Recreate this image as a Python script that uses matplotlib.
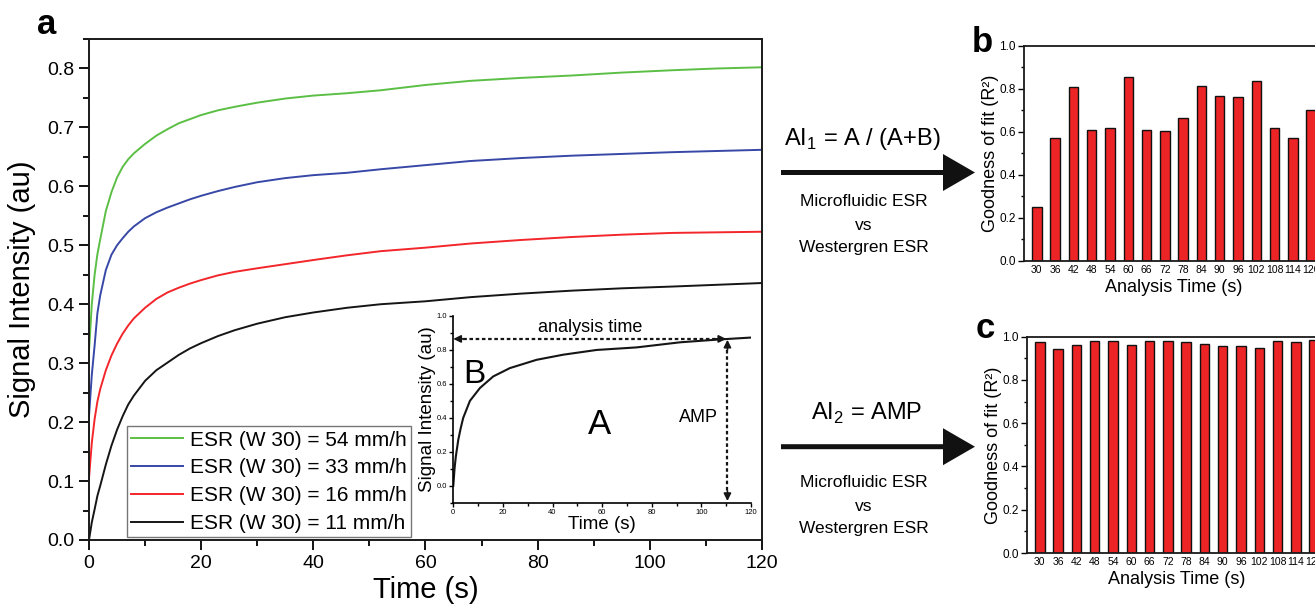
import matplotlib
matplotlib.use("Agg")
import matplotlib.pyplot as plt
from matplotlib.patches import FancyArrow
from matplotlib.ticker import MultipleLocator, FormatStrFormatter

plt.rcParams['font.family'] = ['Liberation Sans', 'DejaVu Sans']
plt.rcParams['mathtext.fontset'] = 'custom'
plt.rcParams['mathtext.rm'] = 'Liberation Sans'

# ---------------- data ----------------
t_main = [0, 0.5, 1, 1.5, 2, 3, 4, 5, 6, 7, 8, 10, 12, 14, 16, 18, 20, 23, 26,
          30, 35, 40, 46, 52, 60, 68, 77, 86, 95, 104, 112, 120]
sig_54 = [0.32, 0.40, 0.45, 0.485, 0.51, 0.558, 0.59, 0.615, 0.633, 0.646, 0.656,
          0.672, 0.686, 0.697, 0.707, 0.714, 0.721, 0.729, 0.735, 0.742, 0.749,
          0.754, 0.758, 0.763, 0.772, 0.779, 0.784, 0.788, 0.793, 0.797, 0.800, 0.802]
sig_33 = [0.21, 0.28, 0.33, 0.385, 0.415, 0.458, 0.484, 0.50, 0.512, 0.523, 0.532,
          0.546, 0.556, 0.564, 0.571, 0.578, 0.584, 0.592, 0.599, 0.607, 0.614,
          0.619, 0.623, 0.629, 0.636, 0.643, 0.648, 0.652, 0.655, 0.658, 0.660, 0.662]
sig_16 = [0.105, 0.165, 0.205, 0.235, 0.256, 0.288, 0.313, 0.333, 0.350, 0.364,
          0.376, 0.394, 0.409, 0.420, 0.428, 0.435, 0.441, 0.449, 0.455, 0.461,
          0.468, 0.475, 0.483, 0.490, 0.496, 0.503, 0.509, 0.514, 0.518, 0.521,
          0.522, 0.523]
sig_11 = [0.0, 0.03, 0.052, 0.075, 0.092, 0.128, 0.16, 0.187, 0.21, 0.23, 0.245,
          0.270, 0.288, 0.301, 0.314, 0.325, 0.334, 0.346, 0.356, 0.367, 0.378,
          0.386, 0.394, 0.400, 0.405, 0.412, 0.418, 0.423, 0.427, 0.430, 0.433, 0.436]
series_labels = ["ESR (W 30) = 54 mm/h", "ESR (W 30) = 33 mm/h",
                 "ESR (W 30) = 16 mm/h", "ESR (W 30) = 11 mm/h"]
series_colors = ["#5cbf45", "#3748a6", "#f2262b", "#151515"]

t_inset = [0, 0.5, 1, 2, 3, 4, 6.7, 10.75, 16.1, 22.8, 33.6, 44.3, 57.8, 73.9,
           91.4, 107.5, 120]
sig_inset = [0.0, 0.10, 0.17, 0.27, 0.34, 0.40, 0.50, 0.576, 0.644, 0.693,
             0.742, 0.772, 0.800, 0.815, 0.845, 0.862, 0.873]

analysis_times = ["30", "36", "42", "48", "54", "60", "66", "72", "78", "84",
                  "90", "96", "102", "108", "114", "120"]
r2_ai1 = [0.25, 0.57, 0.81, 0.61, 0.62, 0.855, 0.61, 0.605, 0.665, 0.815,
          0.765, 0.76, 0.835, 0.62, 0.57, 0.70]
r2_ai2 = [0.975, 0.945, 0.96, 0.98, 0.98, 0.96, 0.98, 0.98, 0.975, 0.965,
          0.955, 0.955, 0.95, 0.98, 0.975, 0.985]

W, H = 1315, 606
fig = plt.figure(figsize=(W / 100, H / 100), dpi=100)

# overlay (pixel coordinates) for arrows and free text
ov = fig.add_axes([0, 0, 1, 1], zorder=-1)
ov.set_xlim(0, W)
ov.set_ylim(H, 0)
ov.axis('off')

def fx(px):
    return px / W

def fy(py):
    return 1 - py / H

# ---------------- panel a ----------------
ax = fig.add_axes([fx(89), fy(540), (762 - 89) / W, (540 - 39) / H])
for y, lab, col in zip([sig_54, sig_33, sig_16, sig_11], series_labels, series_colors):
    ax.plot(t_main, y, color=col, lw=1.4, label=lab)
ax.set_xlim(0, 120)
ax.set_ylim(0, 0.85)
ax.xaxis.set_major_locator(MultipleLocator(20))
ax.xaxis.set_minor_locator(MultipleLocator(10))
ax.yaxis.set_major_locator(MultipleLocator(0.1))
ax.yaxis.set_minor_locator(MultipleLocator(0.05))
ax.yaxis.set_major_formatter(FormatStrFormatter('%.1f'))
ax.tick_params(which='major', direction='out', length=7, width=1.3, labelsize=14,
               top=False, right=False)
ax.tick_params(which='minor', direction='out', length=4, width=1.3, top=False, right=False)
for s in ax.spines.values():
    s.set_linewidth(1.4)
    s.set_color('#1a1a1a')
ax.set_xlabel("Time (s)", fontsize=21, labelpad=3)
ax.set_ylabel("Signal Intensity (au)", fontsize=21, labelpad=8)
leg = ax.legend(loc='lower left', bbox_to_anchor=(0.056, 0.005), fontsize=15,
                frameon=True, fancybox=False, edgecolor='#555555', borderaxespad=0,
                handlelength=2.5, handletextpad=0.3, labelspacing=0.42,
                borderpad=0.22)
leg.get_frame().set_linewidth(1.0)
leg.set_zorder(1)

# ---------------- inset ----------------
ai = fig.add_axes([fx(453.3), fy(502.7), (751 - 453.3) / W, (502.7 - 316) / H])
ai.patch.set_alpha(0)
ai.plot(t_inset, sig_inset, color='#151515', lw=1.5)
ai.set_xlim(0, 120)
ai.set_ylim(-0.1, 1.0)
ai.spines['top'].set_visible(False)
ai.spines['right'].set_visible(False)
for s in ['left', 'bottom']:
    ai.spines[s].set_linewidth(1.2)
ai.xaxis.set_major_locator(MultipleLocator(20))
ai.xaxis.set_minor_locator(MultipleLocator(10))
ai.yaxis.set_major_locator(MultipleLocator(0.2))
ai.yaxis.set_minor_locator(MultipleLocator(0.1))
ai.yaxis.set_major_formatter(FormatStrFormatter('%.1f'))
ai.tick_params(which='major', direction='out', length=3, width=1, labelsize=5.5, pad=1.5)
ai.tick_params(which='minor', direction='out', length=2, width=1)
ai.set_xlabel("Time (s)", fontsize=13.5, labelpad=0)
ai.set_ylabel("Signal Intensity (au)", fontsize=13.5, labelpad=0.5)
# dotted arrows
ai.plot([1.5, 108], [0.865, 0.865], color='#151515', lw=1.6, ls=(0, (1.6, 1.2)))
ai.annotate('', xy=(0, 0.865), xytext=(5, 0.865),
            arrowprops=dict(arrowstyle='-|>', color='#151515', lw=1.2,
                            mutation_scale=11, shrinkA=0, shrinkB=0))
ai.annotate('', xy=(110, 0.865), xytext=(105, 0.865),
            arrowprops=dict(arrowstyle='-|>', color='#151515', lw=1.2,
                            mutation_scale=11, shrinkA=0, shrinkB=0))
ai.plot([110.5, 110.5], [0.80, -0.05], color='#151515', lw=1.6, ls=(0, (1.6, 1.2)))
ai.annotate('', xy=(110.5, 0.86), xytext=(110.5, 0.80),
            arrowprops=dict(arrowstyle='-|>', color='#151515', lw=1.2,
                            mutation_scale=11, shrinkA=0, shrinkB=0))
ai.annotate('', xy=(110.5, -0.09), xytext=(110.5, -0.03),
            arrowprops=dict(arrowstyle='-|>', color='#151515', lw=1.2,
                            mutation_scale=11, shrinkA=0, shrinkB=0))
ai.text(55, 0.935, "analysis time", fontsize=13, ha='center', va='center')
ai.text(8.5, 0.655, "B", fontsize=24, ha='center', va='center')
ai.text(59, 0.36, "A", fontsize=25, ha='center', va='center')
ai.text(106.5, 0.40, "AMP", fontsize=13, ha='right', va='center')

# ---------------- panels b, c ----------------
def bar_panel(left, top, bottom, values):
    axb = fig.add_axes([fx(left), fy(bottom), 300 / W, (bottom - top) / H])
    pos = list(range(len(values)))
    axb.bar(pos, values, width=0.52, color='#ed2426', edgecolor='#111111', lw=1.0)
    axb.set_xlim(-0.7, len(values) - 0.3)
    axb.set_ylim(0, 1.0)
    axb.set_xticks(pos)
    axb.set_xticklabels(analysis_times, fontsize=7.5)
    axb.yaxis.set_major_locator(MultipleLocator(0.2))
    axb.yaxis.set_minor_locator(MultipleLocator(0.1))
    axb.yaxis.set_major_formatter(FormatStrFormatter('%.1f'))
    axb.tick_params(axis='y', which='major', direction='out', length=4, width=1,
                    labelsize=8.5, pad=2)
    axb.tick_params(axis='y', which='minor', direction='out', length=2, width=1)
    axb.tick_params(axis='x', length=0, pad=3)
    for s in axb.spines.values():
        s.set_linewidth(1.3)
        s.set_color('#1a1a1a')
    axb.set_ylabel("Goodness of fit (R²)", fontsize=13, labelpad=0)
    axb.set_xlabel("Analysis Time (s)", fontsize=13, labelpad=3)
    return axb

ab = bar_panel(1024, 45.7, 261, r2_ai1)
ac = bar_panel(1027, 336.7, 553, r2_ai2)

# ---------------- arrows and annotations ----------------
for ya in [172.5, 446.7]:
    ov.add_patch(FancyArrow(781, ya, 194, 0, width=5, head_width=37, head_length=32,
                            length_includes_head=True, color='#111111', lw=0))
ov.text(862, 139, r"AI$_\mathregular{1}$ = A / (A+B)", fontsize=17, ha='center', va='center')
ov.text(867, 413, r"AI$_\mathregular{2}$ = AMP", fontsize=17, ha='center', va='center')
for yc in [(201.7, 226, 247.7), (482.7, 506.7, 528)]:
    ov.text(864, yc[0], "Microfluidic ESR", fontsize=12.5, ha='center', va='center')
    ov.text(864, yc[1], "vs", fontsize=12.5, ha='center', va='center')
    ov.text(864, yc[2], "Westergren ESR", fontsize=12.5, ha='center', va='center')

ov.text(47, 24, "a", fontsize=25, fontweight='bold', ha='center', va='center')
ov.text(982, 43, "b", fontsize=25, fontweight='bold', ha='center', va='center')
ov.text(985, 329, "c", fontsize=25, fontweight='bold', ha='center', va='center')

fig.savefig("out.png", dpi=100)
